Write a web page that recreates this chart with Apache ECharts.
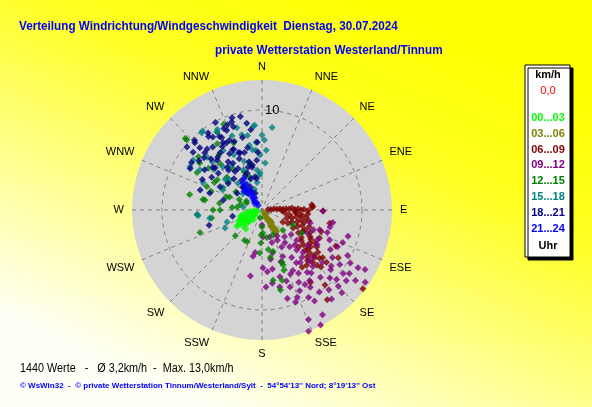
<!DOCTYPE html>
<html>
<head>
<meta charset="utf-8">
<script src="https://cdn.jsdelivr.net/npm/echarts@6/dist/echarts.min.js"></script>
<style>
html,body{margin:0;padding:0;}
#chart{width:592px;height:407px;}
</style>
</head>
<body>
<div id="chart"></div>
<script>
// Himmelsrichtungen (alle 22,5 Grad)
var dirLabels = ['N','NNE','NE','ENE','E','ESE','SE','SSE','S','SSW','SW','WSW','W','WNW','NW','NNW'];
// Zeitabschnitte (Uhr)
var slotNames = ['00...03','03...06','06...09','09...12','12...15','15...18','18...21','21...24'];
var slotColors = ['#00ff00','#808000','#800000','#800080','#008000','#008080','#000080','#0000ff'];

// Werte je Zeitabschnitt: [Geschwindigkeit km/h, Richtung Grad]
var v00_03 = [[0.5,250],[0.8,240],[1.0,255],[1.2,245],[1.4,235],[1.5,260],[1.7,250],[1.8,240],[2.0,245],[2.1,235],
  [2.2,255],[2.4,240],[2.5,230],[2.0,228],[1.6,228],[1.2,265],[0.6,270],[2.3,250],[2.6,245],[1.9,258],
  [1.3,222],[2.8,238],[1.1,235],[0.9,260],[2.2,242],[1.7,232],[3.0,237],[2.5,220],[0.9,234]];
var v03_06 = [[0.3,150],[0.5,145],[0.7,160],[0.9,148],[1.1,145],[1.3,147],[1.5,146],[1.7,148],[1.9,147],[2.1,146],
  [2.3,147],[2.5,148],[2.6,146],[2.7,150],[1.2,152],[1.6,144],[2.0,150],[2.4,144],[0.6,135],[1.8,152],[2.2,150],[1.4,142]];
var v06_09 = [[0.6,85],[0.9,88],[1.2,84],[1.5,87],[1.8,86],[2.1,88],[2.4,87],[2.7,88],[3.0,86],[3.3,89],
  [3.6,88],[3.9,90],[4.2,89],[4.6,91],[5.0,87],[5.1,86],[5.0,84],[6.1,91],[4.6,95],
  [2.3,97],[3.1,105],[3.7,109],[2.9,117],[2.4,120],[3.8,97],[3.3,92],[4.3,111],[4.7,115],[4.3,122],[5.5,119],
  [6.2,122],[6.0,130],[7.0,127],[7.1,132],[7.5,130],[7.3,136],[6.4,132],[5.4,130],[6.4,116],[2.8,100],
  [3.5,101],[4.0,104],[4.5,100],[3.2,112],[2.6,108],[5.0,110],[5.8,125],[6.6,124],[6.9,101],[8.2,116],
  [9.0,122],[8.7,146],[11.1,144],[12.8,128],[8.2,134],[7.1,141],[4.8,125],[5.2,135],[6.8,138],[7.7,128],
  [3.9,115],[4.1,98],[8.3,129],[9.8,140],[7.0,145],
  [3.4,95],[2.0,92],[4.4,106],[5.3,115],[5.7,121],[6.9,131],[6.1,127],[5.0,128],[4.6,118],[3.6,120],
  [4.8,103],[5.9,133],[6.5,136],[7.8,135],[6.3,110]];
var v09_12 = [[6.1,91],[7.2,100],[7.0,104],[6.1,109],[6.9,109],[8.7,112],[8.4,116],[9.0,107],[7.4,114],[10.3,121],
  [11.2,121],[11.9,120],[11.7,127],[12.6,125],[10.3,128],[9.1,131],[8.9,139],[9.6,135],[10.4,140],[10.8,135],
  [9.1,148],[9.9,152],[8.9,155],[9.2,164],[11.9,157],[12.1,150],[8.1,153],[8.2,160],[7.9,167],[7.7,177],
  [5.8,179],[6.7,190],[4.7,191],[4.4,166],[5.1,156],[6.8,153],[7.7,144],[7.6,138],[6.5,144],[4.2,152],
  [4.6,143],[4.6,131],[5.1,117],[5.5,111],[5.0,105],[3.5,140],[3.4,153],[2.8,164],[1.5,180],[2.7,178],
  [4.3,189],[3.4,163],[5.3,139],[5.9,136],[6.9,133],[6.5,122],[8.0,131],[9.4,158],[6.9,165],[5.6,148],
  [6.2,140],[7.3,150],[8.5,146],[10.0,145],[11.0,130],[9.5,125],[7.9,120],[12.9,153],[13.0,159],[6.0,170],
  [5.5,160],[4.0,145],[3.8,130],
  [5.8,128],[6.3,147],[7.0,156],[7.5,161],[8.6,150],[9.8,160],[10.5,150],[11.3,142],[10.8,126],[9.7,118],
  [8.5,124],[7.0,137],[8.0,142],[5.0,170],[6.2,175],[7.4,172],[3.0,150],[4.8,137],[6.3,118],[8.9,129],
  [10.2,133],[11.5,136]];
var v12_15 = [[10.3,313],[7.5,300],[7.4,282],[5.8,280],[6.5,266],[5.1,261],[9.0,330],[7.3,337],[9.4,336],[10.5,313],
  [8.3,310],[6.0,280],[6.6,250],[3.7,226],[3.5,205],[4.2,270],[5.5,300],[4.5,310],[3.8,290],[3.2,305],
  [2.8,320],[2.5,295],[6.2,318],[5.0,325],[4.2,335],[7.0,322],[8.0,326],[3.0,275],[2.2,285],[1.8,300],
  [5.4,290],[6.8,308],[4.8,345],[3.5,340],
  [7.8,307],[6.0,293],[4.3,279],[3.5,292],[4.9,270],[2.5,277],[4.8,313],[1.7,295],[5.4,304],
  [3.3,182],[2.5,182],[2.8,170],[2.7,156],[4.0,171],[4.3,165],[4.8,170],[5.6,159],[5.9,159],[7.1,171],
  [7.3,164],[8.2,167],[0.8,194],[1.7,180],[3.5,210],[2.9,134],[4.6,120],[3.4,116],[2.3,178],[4.3,183],[6.4,160]];
var v15_18 = [[8.4,354],[7.5,0],[4.7,4],[6.8,355],[6.0,354],[9.9,323],[8.5,306],[7.4,303],[6.4,265],[8.6,343],
  [6.6,349],[4.4,335],[4.0,353],[8.5,355],[9.8,322],[7.6,314],[6.5,295],[6.5,266],[3.7,251],[5.3,261],
  [4.1,244],[8.3,7],[6.0,4],[7.0,2],[5.5,358],[3.5,356],[2.8,350],[5.2,340],[6.2,333],[7.1,327],
  [5.8,318],[4.8,310],[3.6,318],[3.0,330],[2.2,340],[9.0,330],[8.0,338],[7.8,345],[5.4,325],[4.5,300],
  [6.3,310],[2.5,310],
  [9.2,331],[7.6,349],[6.1,351],[3.7,357],[4.4,313],[6.9,314],[8.4,301],[4.4,297],[1.9,279]];
var v18_21 = [[9.9,332],[9.7,342],[9.6,347],[8.8,341],[9.5,315],[9.8,310],[9.0,310],[8.0,322],[7.6,332],[7.5,345],
  [7.1,324],[5.5,328],[3.6,326],[6.0,303],[6.7,297],[2.6,333],[3.0,304],[4.0,284],[8.5,304],[5.0,354],
  [5.8,356],[6.8,356],[5.7,310],[4.0,338],[4.3,308],[6.4,347],[5.5,254],[3.0,258],[8.3,300],[9.7,316],
  [9.4,325],[9.2,338],[9.3,341],[8.5,330],[8.2,318],[7.8,312],[7.2,315],[6.9,320],[6.5,330],[6.2,338],
  [6.0,343],[5.6,336],[5.2,320],[4.8,330],[4.5,342],[4.2,318],[3.8,334],[3.3,340],[2.9,322],[2.2,330],
  [1.8,338],[7.0,305],[6.3,312],[8.8,326],[9.0,335],[7.4,338],[5.0,345],[4.6,348],[3.2,350],[8.0,308],
  [7.5,328],[6.7,335],[5.9,325],
  [8.3,331],[8.7,336],[7.7,335],[9.1,324],[8.8,315],[8.1,315],[6.7,318],[5.5,321],[4.7,325],[3.0,320],
  [2.3,319],[4.8,299],[5.5,288],[6.5,288],[6.5,311],[4.4,347],[3.4,348],[8.1,352],[8.8,350],[6.1,339],
  [6.7,334],[7.8,330]];
var v21_24 = [[0.6,320],[0.9,325],[1.2,318],[1.5,322],[1.8,325],[2.1,320],[2.4,326],[2.7,322],[3.0,328],[3.3,324],
  [3.6,330],[2.0,330],[1.4,330],[2.6,316],[1.0,312]];

var slotData = [v00_03, v03_06, v06_09, v09_12, v12_15, v15_18, v18_21, v21_24];

var myChart = echarts.init(document.getElementById('chart'));

var series = [];
for (var i = 0; i < slotNames.length; i++) {
    series.push({
        name: slotNames[i],
        type: 'scatter',
        coordinateSystem: 'polar',
        symbol: 'diamond',
        symbolSize: 7,
        itemStyle: {color: slotColors[i]},
        data: slotData[i],
        silent: true
    });
}

// Legendenkasten rechts (Uhrzeiten in Serienfarbe)
var legendTop = 118, legendStep = 15.8;
var graphics = [
    {type: 'circle', z: -1, shape: {cx: 262, cy: 210, r: 130}, style: {fill: '#d4d4d4'}, silent: true},
    {type: 'rect', z: 5, shape: {x: 525, y: 65, width: 45, height: 192},
     style: {fill: '#fff', stroke: '#000', lineWidth: 1, shadowColor: '#000', shadowOffsetX: 3, shadowOffsetY: 3, shadowBlur: 0}},
    {type: 'text', z: 6, x: 548, y: 75, style: {text: 'km/h', font: 'bold 11px Liberation Sans', fill: '#000', textAlign: 'center', textVerticalAlign: 'middle'}},
    {type: 'text', z: 6, x: 548, y: 91, style: {text: '0,0', font: '11px Liberation Sans', fill: '#ff0000', textAlign: 'center', textVerticalAlign: 'middle'}},
    {type: 'text', z: 6, x: 548, y: 246, style: {text: 'Uhr', font: 'bold 11px Liberation Sans', fill: '#000', textAlign: 'center', textVerticalAlign: 'middle'}},
    {type: 'text', x: 19, y: 20, scaleX: 0.9, style: {text: 'Verteilung Windrichtung/Windgeschwindigkeit  Dienstag, 30.07.2024', font: 'bold 13px Liberation Sans', fill: '#0000ff'}},
    {type: 'text', x: 215, y: 44, scaleX: 0.9, style: {text: 'private Wetterstation Westerland/Tinnum', font: 'bold 13px Liberation Sans', fill: '#0000ff'}},
    {type: 'text', x: 20, y: 363, scaleX: 0.9, style: {text: '1440 Werte   -   Ø 3,2km/h  -  Max. 13,0km/h', font: '12px Liberation Sans', fill: '#000'}},
    {type: 'text', x: 20, y: 382, style: {text: '© WsWin32  -  © private Wetterstation Tinnum/Westerland/Sylt  -  54°54\'13\'\' Nord; 8°19\'13\'\' Ost', font: 'bold 8px Liberation Sans', fill: '#0000ff'}}
];
for (var k = 0; k < slotNames.length; k++) {
    graphics.push({type: 'text', z: 6, x: 548, y: legendTop + k * legendStep,
        style: {text: slotNames[k], font: 'bold 11px Liberation Sans', fill: slotColors[k], textAlign: 'center', textVerticalAlign: 'middle'}});
}

var option = {
    animation: false,
    backgroundColor: {
        type: 'linear', x: 0.65, y: 0, x2: 0.35, y2: 1,
        colorStops: [
            {offset: 0, color: '#ffff00'},
            {offset: 0.3, color: '#ffff20'},
            {offset: 1, color: '#fffff8'}
        ]
    },
    polar: {center: [262, 210], radius: 130},
    angleAxis: {
        type: 'value', min: 0, max: 360, interval: 22.5,
        startAngle: 90, clockwise: true,
        axisLine: {show: false},
        axisTick: {show: false},
        axisLabel: {
            margin: 8,
            color: '#000',
            fontFamily: 'Liberation Sans',
            fontSize: 11,
            formatter: function (v) { return dirLabels[Math.round(v / 22.5)] || ''; }
        },
        splitLine: {lineStyle: {color: '#808080', type: [4, 4], width: 1}}
    },
    radiusAxis: {
        min: 0, max: 13, interval: 10,
        axisLine: {show: false},
        axisTick: {show: false},
        axisLabel: {
            margin: -3, align: 'left', verticalAlign: 'middle',
            color: '#000', fontFamily: 'Liberation Sans', fontSize: 13,
            formatter: function (v) { return v === 10 ? '10' : ''; }
        },
        splitLine: {lineStyle: {color: ['#808080', '#808080', 'rgba(0,0,0,0)'], type: [4, 4], width: 1}}
    },
    graphic: graphics,
    series: series
};

myChart.setOption(option);
</script>
</body>
</html>
